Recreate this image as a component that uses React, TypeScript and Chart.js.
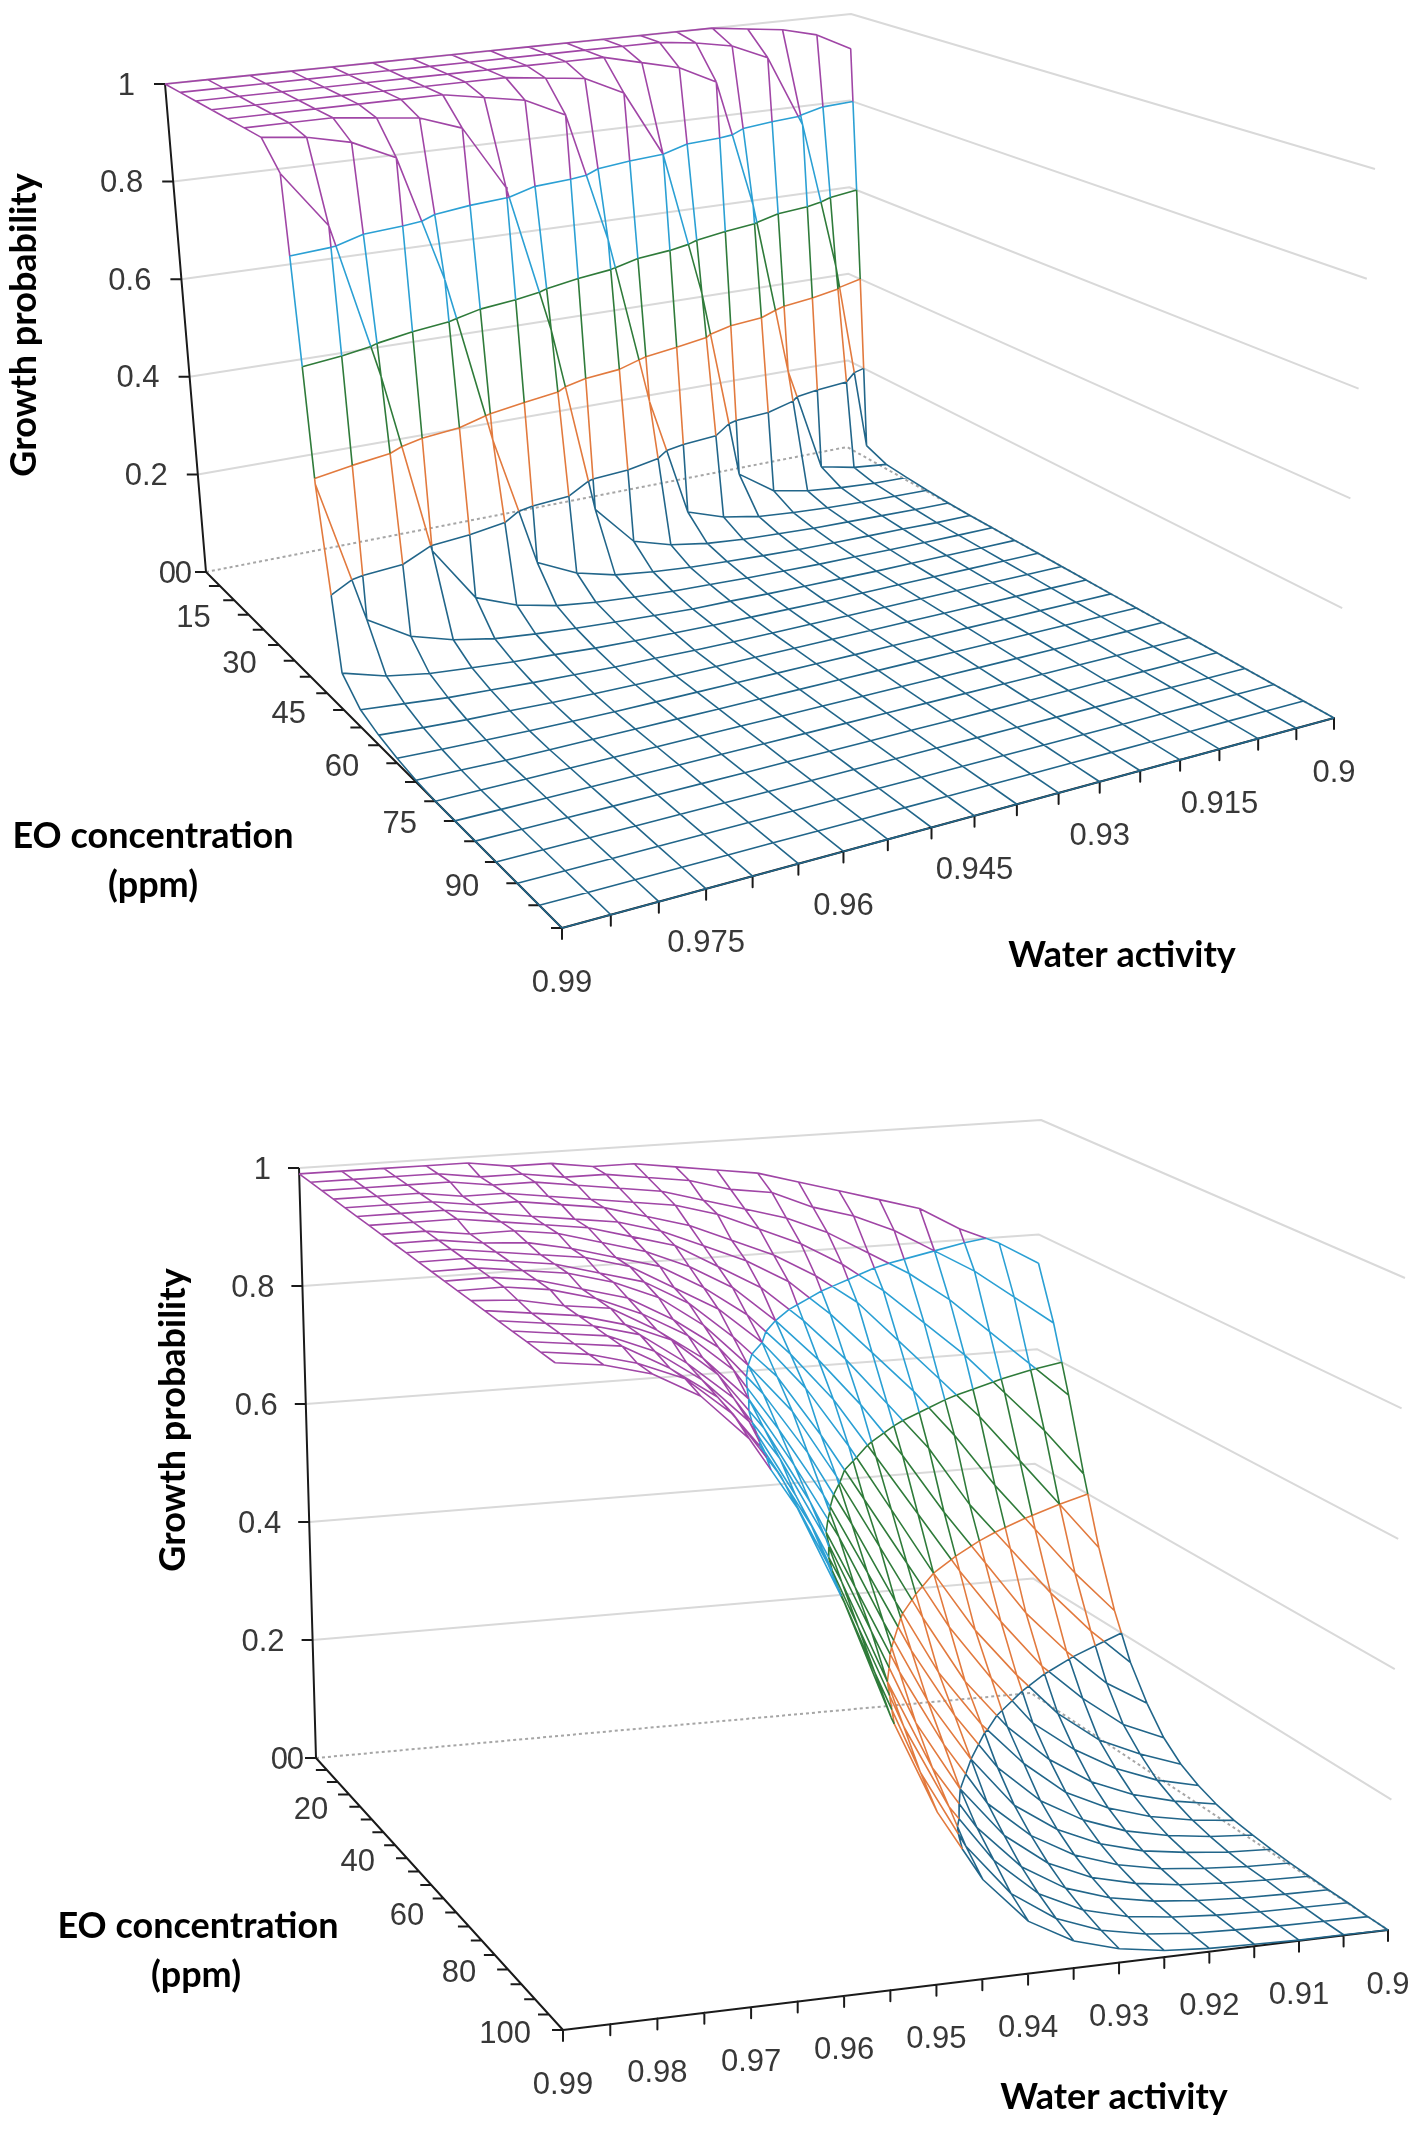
import { useEffect, useRef } from 'react';
import { Chart, registerables } from 'chart.js';
import type { Plugin } from 'chart.js';

Chart.register(...registerables);

// ─── Data ─────────────────────────────────────────────────────────────────────

const WATER_ACTIVITY = [0.99, 0.985, 0.98, 0.975, 0.97, 0.965, 0.96, 0.955, 0.95, 0.945, 0.94, 0.935, 0.93, 0.925, 0.92, 0.915, 0.91, 0.905, 0.9];
const EO_PPM = [0, 5, 10, 15, 20, 25, 30, 35, 40, 45, 50, 55, 60, 65, 70, 75, 80, 85, 90, 95, 100];
const GROWTH_TICKS = [0, 0.2, 0.4, 0.6, 0.8, 1];
const BAND_LEVELS = [0.2, 0.4, 0.6, 0.8];

const TOP_AW_LABELS = [0.99, 0.975, 0.96, 0.945, 0.93, 0.915, 0.9];
const TOP_EO_LABELS = [0, 15, 30, 45, 60, 75, 90];
const BOTTOM_AW_LABELS = [0.99, 0.98, 0.97, 0.96, 0.95, 0.94, 0.93, 0.92, 0.91, 0.9];
const BOTTOM_EO_LABELS = [0, 20, 40, 60, 80, 100];

// growth probability: one row per EO concentration, columns follow WATER_ACTIVITY
const TOP_GROWTH = [
  [1, 1, 1, 1, 1, 1, 1, 1, 1, 1, 1, 1, 1, 1, 1, 0.99, 0.98, 0.96, 0.92],
  [1, 1, 1, 1, 1, 1, 1, 1, 1, 1, 1, 1, 1, 0.99, 0.975, 0.94, 0.78, 0.45, 0.028],
  [1, 1, 1, 1, 1, 1, 1, 1, 1, 1, 1, 0.98, 0.96, 0.92, 0.64, 0.26, 0.034, 0.018, 0.01],
  [1, 1, 1, 1, 1, 1, 1, 1, 0.99, 0.98, 0.94, 0.8, 0.49, 0.087, 0.036, 0.021, 0.013, 0.008, 0.006],
  [1, 1, 1, 1, 1, 1, 0.985, 0.97, 0.93, 0.66, 0.31, 0.062, 0.036, 0.022, 0.015, 0.01, 0.007, 0.005, 0.003],
  [1, 1, 1, 0.99, 0.98, 0.95, 0.82, 0.52, 0.14, 0.059, 0.036, 0.023, 0.016, 0.012, 0.008, 0.006, 0.004, 0.002, 0.001],
  [1, 0.99, 0.97, 0.93, 0.68, 0.35, 0.091, 0.054, 0.034, 0.024, 0.017, 0.013, 0.009, 0.006, 0.004, 0.003, 0.002, 0, 0],
  [0.95, 0.84, 0.54, 0.19, 0.083, 0.052, 0.034, 0.024, 0.018, 0.013, 0.01, 0.007, 0.005, 0.003, 0.002, 0.001, 0, 0, 0],
  [0.39, 0.12, 0.072, 0.048, 0.033, 0.025, 0.019, 0.014, 0.01, 0.006, 0.005, 0.003, 0.002, 0.001, 0, 0, 0, 0, 0],
  [0.068, 0.045, 0.032, 0.025, 0.019, 0.015, 0.01, 0.007, 0.005, 0.003, 0.002, 0.001, 0, 0, 0, 0, 0, 0, 0],
  [0.032, 0.025, 0.018, 0.014, 0.01, 0.007, 0.004, 0.003, 0.001, 0, 0, 0, 0, 0, 0, 0, 0, 0, 0],
  [0.018, 0.013, 0.009, 0.007, 0.004, 0.002, 0.001, 0, 0, 0, 0, 0, 0, 0, 0, 0, 0, 0, 0],
  [0.009, 0.006, 0.004, 0.002, 0.001, 0, 0, 0, 0, 0, 0, 0, 0, 0, 0, 0, 0, 0, 0],
  [0.003, 0.002, 0, 0, 0, 0, 0, 0, 0, 0, 0, 0, 0, 0, 0, 0, 0, 0, 0],
  [0, 0, 0, 0, 0, 0, 0, 0, 0, 0, 0, 0, 0, 0, 0, 0, 0, 0, 0],
  [0, 0, 0, 0, 0, 0, 0, 0, 0, 0, 0, 0, 0, 0, 0, 0, 0, 0, 0],
  [0, 0, 0, 0, 0, 0, 0, 0, 0, 0, 0, 0, 0, 0, 0, 0, 0, 0, 0],
  [0, 0, 0, 0, 0, 0, 0, 0, 0, 0, 0, 0, 0, 0, 0, 0, 0, 0, 0],
  [0, 0, 0, 0, 0, 0, 0, 0, 0, 0, 0, 0, 0, 0, 0, 0, 0, 0, 0],
  [0, 0, 0, 0, 0, 0, 0, 0, 0, 0, 0, 0, 0, 0, 0, 0, 0, 0, 0],
  [0, 0, 0, 0, 0, 0, 0, 0, 0, 0, 0, 0, 0, 0, 0, 0, 0, 0, 0],
];

const BOTTOM_GROWTH = [
  [0.99, 0.99, 0.99, 0.99, 0.99, 0.98, 0.98, 0.97, 0.97, 0.96, 0.95, 0.94, 0.92, 0.9, 0.88, 0.86, 0.82, 0.79, 0.75],
  [0.99, 0.99, 0.99, 0.99, 0.98, 0.98, 0.97, 0.97, 0.96, 0.95, 0.93, 0.92, 0.89, 0.87, 0.84, 0.8, 0.76, 0.71, 0.66],
  [0.99, 0.99, 0.99, 0.99, 0.98, 0.98, 0.97, 0.96, 0.95, 0.93, 0.91, 0.89, 0.86, 0.82, 0.78, 0.73, 0.67, 0.61, 0.55],
  [0.99, 0.99, 0.99, 0.98, 0.98, 0.97, 0.96, 0.95, 0.94, 0.92, 0.89, 0.86, 0.82, 0.77, 0.71, 0.65, 0.58, 0.51, 0.43],
  [0.99, 0.99, 0.99, 0.98, 0.98, 0.97, 0.96, 0.94, 0.92, 0.89, 0.86, 0.82, 0.77, 0.7, 0.63, 0.56, 0.48, 0.4, 0.32],
  [0.99, 0.99, 0.99, 0.98, 0.97, 0.96, 0.95, 0.93, 0.9, 0.87, 0.83, 0.77, 0.7, 0.63, 0.55, 0.46, 0.38, 0.3, 0.23],
  [0.99, 0.99, 0.99, 0.98, 0.97, 0.96, 0.94, 0.92, 0.88, 0.84, 0.78, 0.71, 0.63, 0.55, 0.45, 0.37, 0.29, 0.22, 0.16],
  [0.99, 0.99, 0.98, 0.98, 0.97, 0.95, 0.93, 0.9, 0.86, 0.8, 0.73, 0.65, 0.56, 0.46, 0.37, 0.28, 0.21, 0.15, 0.11],
  [0.99, 0.99, 0.98, 0.975, 0.96, 0.94, 0.92, 0.88, 0.83, 0.76, 0.68, 0.58, 0.48, 0.38, 0.29, 0.21, 0.15, 0.1, 0.071],
  [0.99, 0.99, 0.98, 0.97, 0.96, 0.94, 0.9, 0.86, 0.8, 0.72, 0.62, 0.51, 0.4, 0.3, 0.22, 0.15, 0.1, 0.07, 0.046],
  [0.99, 0.99, 0.98, 0.97, 0.95, 0.93, 0.89, 0.83, 0.76, 0.66, 0.55, 0.44, 0.33, 0.24, 0.16, 0.11, 0.072, 0.046, 0.03],
  [0.99, 0.99, 0.98, 0.97, 0.95, 0.92, 0.87, 0.8, 0.72, 0.61, 0.49, 0.37, 0.26, 0.18, 0.12, 0.077, 0.049, 0.031, 0.019],
  [0.99, 0.99, 0.98, 0.96, 0.94, 0.9, 0.85, 0.77, 0.67, 0.55, 0.42, 0.3, 0.21, 0.14, 0.086, 0.054, 0.033, 0.02, 0.012],
  [0.99, 0.99, 0.98, 0.96, 0.93, 0.89, 0.83, 0.73, 0.62, 0.49, 0.36, 0.25, 0.16, 0.1, 0.062, 0.037, 0.022, 0.013, 0.008],
  [0.99, 0.985, 0.97, 0.96, 0.92, 0.87, 0.8, 0.69, 0.57, 0.43, 0.3, 0.2, 0.12, 0.074, 0.044, 0.025, 0.015, 0.008, 0.005],
  [0.99, 0.98, 0.97, 0.95, 0.92, 0.86, 0.77, 0.65, 0.51, 0.37, 0.25, 0.15, 0.092, 0.054, 0.031, 0.017, 0.01, 0.005, 0.003],
  [0.99, 0.98, 0.97, 0.95, 0.9, 0.84, 0.74, 0.61, 0.46, 0.31, 0.2, 0.12, 0.069, 0.039, 0.022, 0.012, 0.007, 0.004, 0.002],
  [0.99, 0.98, 0.97, 0.94, 0.89, 0.82, 0.7, 0.56, 0.4, 0.26, 0.16, 0.092, 0.051, 0.028, 0.015, 0.008, 0.004, 0.002, 0.001],
  [0.99, 0.98, 0.97, 0.93, 0.88, 0.79, 0.67, 0.51, 0.35, 0.22, 0.13, 0.071, 0.038, 0.02, 0.011, 0.006, 0.003, 0.002, 0.001],
  [0.99, 0.98, 0.96, 0.93, 0.87, 0.77, 0.63, 0.46, 0.3, 0.18, 0.1, 0.054, 0.028, 0.014, 0.007, 0.004, 0.002, 0.001, 0],
  [0.99, 0.98, 0.96, 0.92, 0.85, 0.74, 0.59, 0.41, 0.26, 0.15, 0.079, 0.041, 0.021, 0.01, 0.005, 0.003, 0.001, 0.001, 0],
];

// 0–0.2, 0.2–0.4, 0.4–0.6, 0.6–0.8, 0.8–1
const BAND_COLORS = ['#22668A', '#E27A3E', '#2F7B3A', '#2BA0D4', '#A046A6'];

const TICK_FONT = '31px "Liberation Sans", Arial, sans-serif';
const TITLE_FONT = 'bold 36px Lato, "Open Sans", sans-serif';

// ─── 3D box → canvas projection ───────────────────────────────────────────────

type Pt = [number, number];
interface Frame {
  width: number;
  height: number;
  corners: Record<string, Pt>;    // key u v w (0/1)
  heights: Record<string, number>; // key u v, apparent height of each vertical edge
  growth: number[][];
  awLabels: number[];
  eoLabels: number[];
  eoLabelGap: number;
  zLabelGap: number;
  titles: { growth: Pt; eo: Pt; ppm: Pt; aw: Pt };
}

const TOP_FRAME: Frame = {
  width: 1417,
  height: 1060,
  corners: {
    '000': [206, 572], '001': [165, 84],
    '100': [847, 447], '101': [851, 14],
    '110': [1334, 718], '111': [1375, 169],
    '010': [562, 928], '011': [551, 298],
  },
  heights: { '00': 488, '10': 433, '11': 549, '01': 630 },
  growth: TOP_GROWTH,
  awLabels: TOP_AW_LABELS,
  eoLabels: TOP_EO_LABELS,
  eoLabelGap: 38,
  zLabelGap: 30,
  titles: { growth: [24, 325], eo: [153, 836], ppm: [153, 885], aw: [1122, 955] },
};

const BOTTOM_FRAME: Frame = {
  width: 1417,
  height: 1069,
  corners: {
    '000': [316, 698], '001': [299, 108],
    '100': [1031, 633], '101': [1041, 60],
    '110': [1388, 870], '111': [1405, 218],
    '010': [563, 970], '011': [555, 296],
  },
  heights: { '00': 590, '10': 573, '11': 652, '01': 674 },
  growth: BOTTOM_GROWTH,
  awLabels: BOTTOM_AW_LABELS,
  eoLabels: BOTTOM_EO_LABELS,
  eoLabelGap: 32,
  zLabelGap: 28,
  titles: { growth: [173, 360], eo: [198, 866], ppm: [196, 915], aw: [1114, 1037] },
};

const AW_MAX = WATER_ACTIVITY[0];
const AW_MIN = WATER_ACTIVITY[WATER_ACTIVITY.length - 1];
const EO_MAX = EO_PPM[EO_PPM.length - 1];
const uOf = (aw: number) => (AW_MAX - aw) / (AW_MAX - AW_MIN);
const vOf = (eo: number) => eo / EO_MAX;

// perspective-correct interpolation between the eight box corners
function project(f: Frame, u: number, v: number, w: number) {
  let x = 0, y = 0, s = 0;
  for (const cu of [0, 1]) for (const cv of [0, 1]) for (const cw of [0, 1]) {
    const b = (cu ? u : 1 - u) * (cv ? v : 1 - v) * (cw ? w : 1 - w) / f.heights[`${cu}${cv}`];
    const c = f.corners[`${cu}${cv}${cw}`];
    x += b * c[0];
    y += b * c[1];
    s += b;
  }
  return { x: x / s, y: y / s };
}

type XY = { x: number | null; y: number | null };
const GAP: XY = { x: null, y: null };
type P3 = [number, number, number];

const bandOf = (z: number) => Math.max(0, Math.min(4, Math.floor(z / 0.2 + 1e-9)));

function buildGeometry(f: Frame) {
  const bands: XY[][] = BAND_COLORS.map(() => []);
  const g = f.growth;
  const node = (k: number, i: number): P3 => [uOf(WATER_ACTIVITY[i]), vOf(EO_PPM[k]), g[k][i]];
  const at = (a: P3, b: P3, t: number) =>
    project(f, a[0] + (b[0] - a[0]) * t, a[1] + (b[1] - a[1]) * t, a[2] + (b[2] - a[2]) * t);

  // mesh edge, split wherever it crosses a band boundary
  const edge = (a: P3, b: P3) => {
    const cuts = [0, 1];
    for (const L of BAND_LEVELS) {
      if ((a[2] - L) * (b[2] - L) < 0) cuts.push((L - a[2]) / (b[2] - a[2]));
    }
    cuts.sort((p, q) => p - q);
    for (let j = 0; j < cuts.length - 1; j++) {
      const t0 = cuts[j], t1 = cuts[j + 1];
      if (t1 - t0 < 1e-9) continue;
      const zm = a[2] + (b[2] - a[2]) * (t0 + t1) / 2;
      bands[bandOf(zm)].push(at(a, b, t0), at(a, b, t1), GAP);
    }
  };

  for (let k = 0; k < EO_PPM.length; k++)
    for (let i = 0; i < WATER_ACTIVITY.length - 1; i++) edge(node(k, i), node(k, i + 1));
  for (let i = 0; i < WATER_ACTIVITY.length; i++)
    for (let k = 0; k < EO_PPM.length - 1; k++) edge(node(k, i), node(k + 1, i));

  // band boundary lines across every cell
  for (let k = 0; k < EO_PPM.length - 1; k++) {
    for (let i = 0; i < WATER_ACTIVITY.length - 1; i++) {
      const c = [node(k, i), node(k, i + 1), node(k + 1, i + 1), node(k + 1, i)];
      BAND_LEVELS.forEach((L, li) => {
        const pts: { x: number; y: number }[] = [];
        for (let e = 0; e < 4; e++) {
          const a = c[e], b = c[(e + 1) % 4];
          const sa = a[2] >= L ? 1 : -1, sb = b[2] >= L ? 1 : -1;
          if (sa !== sb) pts.push(at(a, b, (L - a[2]) / (b[2] - a[2])));
        }
        if (pts.length >= 2) bands[li].push(pts[0], pts[1], GAP);
        if (pts.length === 4) bands[li].push(pts[2], pts[3], GAP);
      });
    }
  }

  // walls
  const grid: XY[] = [];
  GROWTH_TICKS.filter(z => z > 0).forEach(z => {
    grid.push(project(f, 0, 0, z), project(f, 1, 0, z), project(f, 1, 1, z), GAP);
  });
  const floor: XY[] = [project(f, 0, 0, 0), project(f, 1, 0, 0), project(f, 1, 1, 0)];

  // axes and tick marks
  const axes: XY[] = [
    project(f, 0, 0, 0), project(f, 0, 0, 1), GAP,
    project(f, 0, 0, 0), project(f, 0, 1, 0), project(f, 1, 1, 0), GAP,
  ];
  GROWTH_TICKS.forEach(z => {
    const p = project(f, 0, 0, z);
    axes.push(p, { x: p.x - 11, y: p.y }, GAP);
  });
  EO_PPM.forEach(eo => {
    const p = project(f, 0, vOf(eo), 0);
    axes.push(p, { x: p.x - 11, y: p.y }, GAP);
  });
  WATER_ACTIVITY.forEach(aw => {
    const p = project(f, uOf(aw), 1, 0);
    axes.push(p, { x: p.x, y: p.y + 11 }, GAP);
  });

  return { bands, grid, floor, axes };
}

// ─── Text: tick labels and axis titles ────────────────────────────────────────

const labelPlugin = (f: Frame): Plugin<'scatter'> => ({
  id: 'surfaceLabels',
  afterDatasetsDraw(chart) {
    const { ctx } = chart;
    const sx = chart.scales.x, sy = chart.scales.y;
    const px = (p: { x: number; y: number }) => ({ x: sx.getPixelForValue(p.x), y: sy.getPixelForValue(p.y) });

    ctx.save();
    ctx.fillStyle = '#383838';
    ctx.font = TICK_FONT;
    ctx.textBaseline = 'middle';

    ctx.textAlign = 'right';
    GROWTH_TICKS.forEach(z => {
      const p = px(project(f, 0, 0, z));
      ctx.fillText(String(z), p.x - f.zLabelGap, p.y + 2);
    });
    f.eoLabels.forEach(eo => {
      const p = px(project(f, 0, vOf(eo), 0));
      // the first label sits right against the corner, next to the growth "0"
      const gap = eo === 0 ? f.zLabelGap - 16 : f.eoLabelGap;
      ctx.fillText(String(eo), p.x - gap, p.y + (eo === 0 ? 2 : 4));
    });

    ctx.textAlign = 'center';
    f.awLabels.forEach(aw => {
      const p = px(project(f, uOf(aw), 1, 0));
      ctx.fillText(String(aw), p.x, p.y + 55);
    });

    ctx.fillStyle = '#000';
    ctx.font = TITLE_FONT;
    const t = f.titles;
    ctx.fillText('EO concentration', sx.getPixelForValue(t.eo[0]), sy.getPixelForValue(t.eo[1]));
    ctx.fillText('(ppm)', sx.getPixelForValue(t.ppm[0]), sy.getPixelForValue(t.ppm[1]));
    ctx.fillText('Water activity', sx.getPixelForValue(t.aw[0]), sy.getPixelForValue(t.aw[1]));
    ctx.translate(sx.getPixelForValue(t.growth[0]), sy.getPixelForValue(t.growth[1]));
    ctx.rotate(-Math.PI / 2);
    ctx.fillText('Growth probability', 0, 0);
    ctx.restore();
  },
});

// ─── Surface chart ────────────────────────────────────────────────────────────

function SurfaceChart({ frame }: { frame: Frame }) {
  const canvasRef = useRef<HTMLCanvasElement>(null);
  const chartRef = useRef<Chart | null>(null);

  useEffect(() => {
    if (!canvasRef.current) return;
    const existing = Chart.getChart(canvasRef.current);
    if (existing) existing.destroy();
    chartRef.current?.destroy();

    const { bands, grid, floor, axes } = buildGeometry(frame);
    const line = { showLine: true, pointRadius: 0, fill: false, tension: 0, spanGaps: false, borderJoinStyle: 'round' as const };

    chartRef.current = new Chart(canvasRef.current, {
      type: 'scatter',
      data: {
        datasets: [
          ...bands.map((data, b) => ({ ...line, data, borderColor: BAND_COLORS[b], borderWidth: 1.6 })).reverse(),
          { ...line, data: axes, borderColor: '#1a1a1a', borderWidth: 2 },
          { ...line, data: grid, borderColor: '#d9d9d9', borderWidth: 2 },
          { ...line, data: floor, borderColor: '#a6a6a6', borderWidth: 2, borderDash: [3, 3] },
        ] as any,
      },
      options: {
        animation: false,
        responsive: false,
        devicePixelRatio: 1,
        events: [],
        layout: { padding: 0 },
        plugins: { legend: { display: false }, tooltip: { enabled: false } },
        scales: {
          x: { type: 'linear', display: false, min: 0, max: frame.width },
          y: { type: 'linear', display: false, min: 0, max: frame.height, reverse: true },
        },
      },
      plugins: [labelPlugin(frame)],
    });

    return () => { chartRef.current?.destroy(); chartRef.current = null; };
  }, [frame]);

  return <canvas ref={canvasRef} width={frame.width} height={frame.height} style={{ display: 'block' }} />;
}

export default function App() {
  return (
    <div style={{ position: 'absolute', left: 0, top: 0, width: 1417, height: 2129, background: '#fff' }}>
      <SurfaceChart frame={TOP_FRAME} />
      <SurfaceChart frame={BOTTOM_FRAME} />
    </div>
  );
}
